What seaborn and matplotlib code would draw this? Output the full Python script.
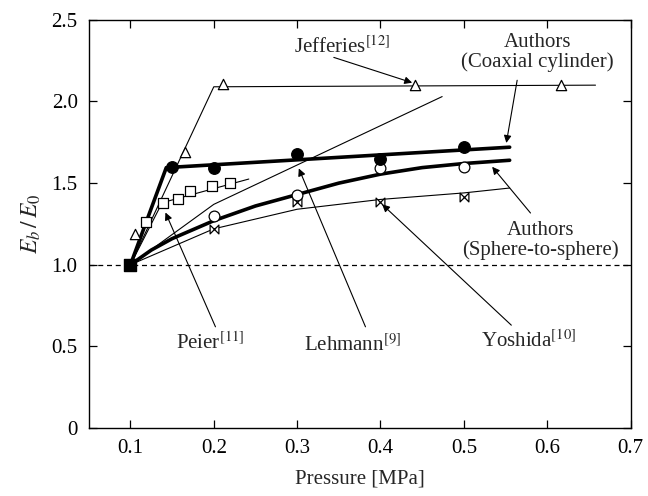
import numpy as np
import pandas as pd
import matplotlib
matplotlib.use("Agg")
import matplotlib.pyplot as plt
from matplotlib.path import Path
import seaborn as sns

# ---- data ----
# Authors, coaxial cylinder (filled circles) and fitted thick line
coax_x = [0.10, 0.15, 0.20, 0.30, 0.40, 0.50]
coax_y = [1.00, 1.60, 1.59, 1.68, 1.65, 1.72]
coax_fit_x = [0.10, 0.143, 0.555]
coax_fit_y = [1.00, 1.595, 1.72]

# Authors, sphere-to-sphere (open circles) and fitted thick curve
sph_x = [0.10, 0.20, 0.30, 0.40, 0.50]
sph_y = [1.00, 1.30, 1.43, 1.59, 1.60]
sph_fit_x = [0.10, 0.125, 0.15, 0.20, 0.25, 0.30, 0.35, 0.40, 0.45, 0.50, 0.555]
sph_fit_y = [1.00, 1.09, 1.16, 1.27, 1.36, 1.43, 1.50, 1.555, 1.595, 1.62, 1.64]

# Jefferies [12] (open triangles)
jef_x = [0.106, 0.166, 0.211, 0.442, 0.617]
jef_y = [1.19, 1.69, 2.11, 2.10, 2.10]
jef_fit_x = [0.10, 0.20, 0.658]
jef_fit_y = [1.00, 2.09, 2.10]

# Peier [11] (open squares)
pei_x = [0.119, 0.139, 0.157, 0.172, 0.198, 0.219]
pei_y = [1.26, 1.38, 1.40, 1.45, 1.48, 1.50]
pei_fit_x = [0.10, 0.138, 0.242]
pei_fit_y = [1.00, 1.38, 1.525]

# Lehmann [9] (line only)
leh_fit_x = [0.10, 0.20, 0.474]
leh_fit_y = [1.00, 1.37, 2.03]

# Yoshida [10] (bow-tie markers)
yos_x = [0.20, 0.30, 0.40, 0.50]
yos_y = [1.22, 1.385, 1.385, 1.415]
yos_fit_x = [0.10, 0.20, 0.30, 0.40, 0.50, 0.555]
yos_fit_y = [1.00, 1.22, 1.34, 1.40, 1.44, 1.47]

xticks = [0.1, 0.2, 0.3, 0.4, 0.5, 0.6, 0.7]
yticks = [0, 0.5, 1.0, 1.5, 2.0, 2.5]
ytick_labels = ["0", "0.5", "1.0", "1.5", "2.0", "2.5"]

# ---- style ----
sns.set_theme(style="ticks")
plt.rcParams["font.family"] = ["Liberation Serif", "DejaVu Serif"]
plt.rcParams["mathtext.fontset"] = "stix"
plt.rcParams["xtick.direction"] = "in"
plt.rcParams["ytick.direction"] = "in"

fig = plt.figure(figsize=(6.48, 4.96), dpi=100)
ax = fig.add_axes([0.137, 0.137, 0.836, 0.823])

FS = 15

def line(x, y, lw):
    sns.lineplot(x=x, y=y, ax=ax, color="black", lw=lw, sort=False,
                 estimator=None, legend=False)

def pts(x, y, marker, size, filled=False):
    sns.scatterplot(x=x, y=y, ax=ax, marker=marker, s=size,
                    facecolor="black" if filled else "white",
                    edgecolor="black", linewidth=0.9, zorder=5, legend=False)

ax.axhline(1.0, color="black", lw=0.9, ls=(0, (4, 3)), zorder=1)

line(jef_fit_x, jef_fit_y, 0.8)
line(leh_fit_x, leh_fit_y, 0.8)
line(pei_fit_x, pei_fit_y, 0.8)
line(yos_fit_x, yos_fit_y, 0.8)
line(sph_fit_x, sph_fit_y, 2.6)
line(coax_fit_x, coax_fit_y, 2.6)

bowtie = Path([(-1, -1), (-1, 1), (1, -1), (1, 1), (-1, -1)],
              [Path.MOVETO, Path.LINETO, Path.LINETO, Path.LINETO, Path.CLOSEPOLY])

pts(jef_x, jef_y, "^", 55)
pts(pei_x, pei_y, "s", 45)
pts(yos_x, yos_y, bowtie, 40)
pts(sph_x, sph_y, "o", 60)
pts(coax_x, coax_y, "o", 70, filled=True)
ax.scatter([0.10], [1.00], marker="s", s=70, color="black", zorder=6)

arrow = dict(arrowstyle="-|>", color="black", lw=0.8, mutation_scale=11,
             shrinkA=0, shrinkB=0)

ax.text(0.354, 2.33, "Jefferies$^{[12]}$", ha="center", va="center", fontsize=FS)
ax.annotate("", xy=(0.438, 2.115), xytext=(0.344, 2.27), arrowprops=arrow)

ax.text(0.588, 2.30, "Authors\n(Coaxial cylinder)", ha="center", va="center",
        fontsize=FS, linespacing=1.0)
ax.annotate("", xy=(0.551, 1.746), xytext=(0.564, 2.13), arrowprops=arrow)

ax.text(0.592, 1.15, "Authors\n(Sphere-to-sphere)", ha="center", va="center",
        fontsize=FS, linespacing=1.0)
ax.annotate("", xy=(0.534, 1.60), xytext=(0.580, 1.317), arrowprops=arrow)

ax.text(0.196, 0.52, "Peier$^{[11]}$", ha="center", va="center", fontsize=FS)
ax.annotate("", xy=(0.142, 1.32), xytext=(0.202, 0.62), arrowprops=arrow)

ax.text(0.366, 0.51, "Lehmann$^{[9]}$", ha="center", va="center", fontsize=FS)
ax.annotate("", xy=(0.302, 1.59), xytext=(0.382, 0.62), arrowprops=arrow)

ax.text(0.578, 0.53, "Yoshida$^{[10]}$", ha="center", va="center", fontsize=FS)
ax.annotate("", xy=(0.402, 1.37), xytext=(0.557, 0.63), arrowprops=arrow)

ax.set_xlim(0.05, 0.7)
ax.set_ylim(0, 2.5)
ax.set_xticks(xticks)
ax.set_xticklabels([f"{t:.1f}" for t in xticks])
ax.set_yticks(yticks)
ax.set_yticklabels(ytick_labels)
ax.tick_params(axis="both", which="both", direction="in", top=True, right=True,
               labelsize=FS, length=6, width=0.9, pad=8, colors="black")
for s in ax.spines.values():
    s.set_visible(True)
    s.set_color("black")
    s.set_linewidth(1.0)

ax.set_xlabel("Pressure [MPa]", fontsize=FS, labelpad=8)
ax.set_ylabel("$E_b\\,/\\,E_0$", fontsize=FS + 2, labelpad=6)

fig.savefig("out.png", dpi=100)
